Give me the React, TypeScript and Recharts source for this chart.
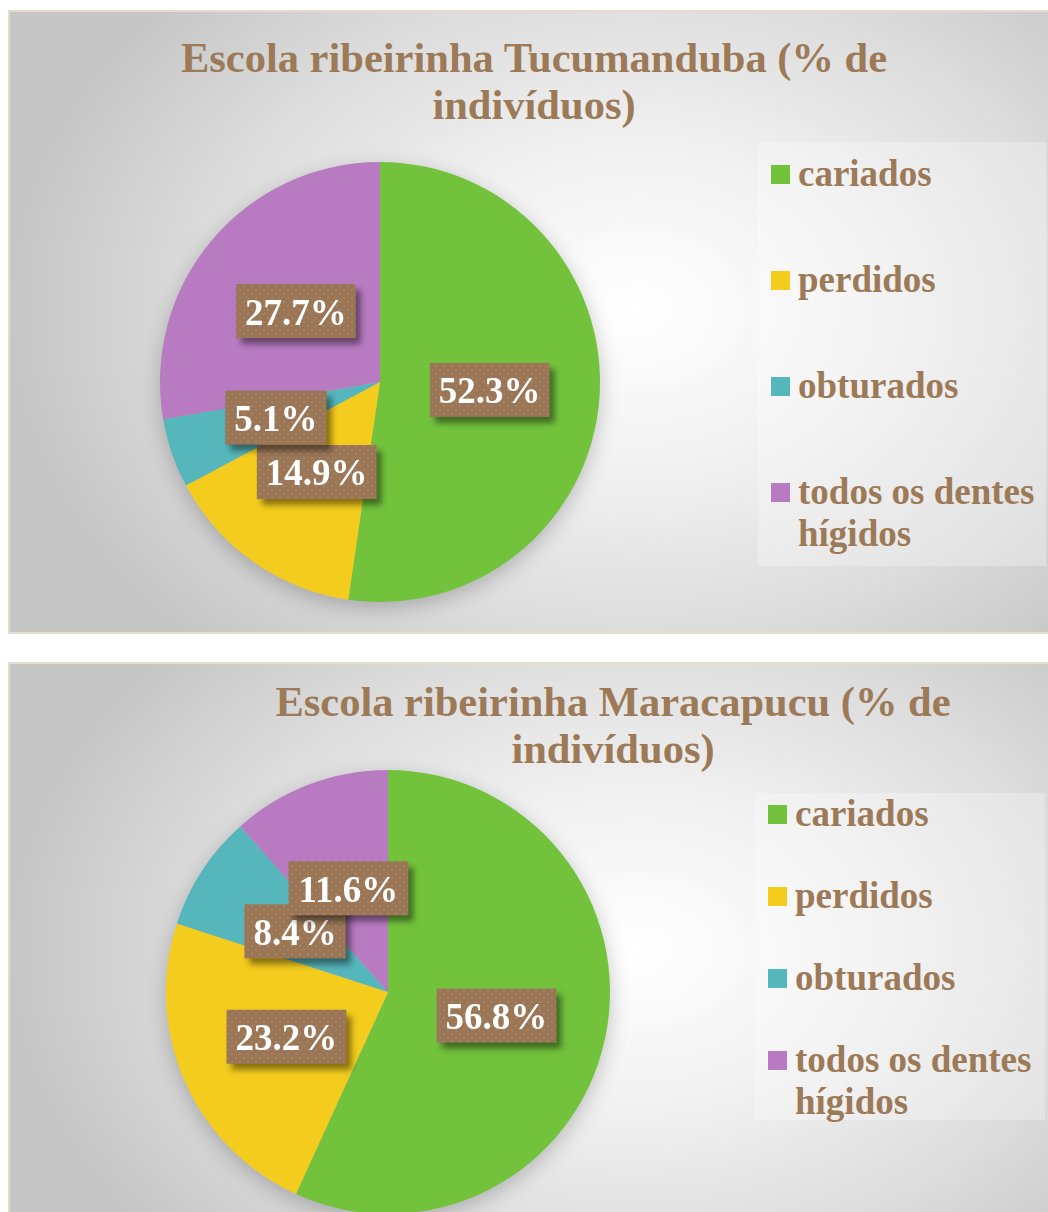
import { PieChart, Pie, Cell } from "recharts"

// categories and values
const categories = ["cariados", "perdidos", "obturados", "todos os dentes hígidos"]
const tucumandubaValues = [52.3, 14.9, 5.1, 27.7]
const maracapucuValues = [56.8, 23.2, 8.4, 11.6]
const sliceColors = ["#72C23C", "#F4CC1E", "#55B6BB", "#B87BC1"]

const titleTucumanduba = ["Escola ribeirinha Tucumanduba (% de", "indivíduos)"]
const titleMaracapucu = ["Escola ribeirinha Maracapucu (% de", "indivíduos)"]

const BROWN = "#9D7A57"
const FONT = "'Liberation Serif', 'Times New Roman', serif"
const RAD = Math.PI / 180
const BORDER = 2

const toRows = (values: number[]) =>
  categories.map((name, i) => ({ name, value: values[i] }))

// rough text width for Times bold digits
const textWidth = (s: string, size: number) =>
  s.split("").reduce((w, ch) => w + (ch === "%" ? 1 : ch === "." ? 0.25 : 0.5), 0) * size

const makeLabel = (prefix: string) => (props: any) => {
  const { cx, cy, midAngle, outerRadius, value, index } = props
  const r = outerRadius * 0.5
  const x = cx + r * Math.cos(-midAngle * RAD)
  const y = cy + r * Math.sin(-midAngle * RAD)
  const text = `${value.toFixed(1)}%`
  const fs = 37
  const w = textWidth(text, fs) + 18
  const h = 54
  const pid = `${prefix}-dots-${index}`
  const fid = `${prefix}-shadow-${index}`
  return (
    <g>
      <defs>
        <pattern id={pid} width="8" height="8" patternUnits="userSpaceOnUse">
          <rect width="8" height="8" fill="#9A7656" />
          <circle cx="2" cy="2" r="1.1" fill="#A98869" />
          <circle cx="6" cy="6" r="1.1" fill="#A48263" />
        </pattern>
        <filter id={fid} x="-20%" y="-20%" width="150%" height="160%">
          <feGaussianBlur stdDeviation="3" />
        </filter>
      </defs>
      <rect x={x - w / 2 + 5} y={y - h / 2 + 6} width={w} height={h} fill="rgba(0,0,0,0.45)" filter={`url(#${fid})`} />
      <rect x={x - w / 2} y={y - h / 2} width={w} height={h} fill={`url(#${pid})`} />
      <text
        x={x}
        y={y + 1}
        textAnchor="middle"
        dominantBaseline="central"
        fill="#FFFFFF"
        fontFamily={FONT}
        fontWeight="bold"
        fontSize={fs}
      >
        {text}
      </text>
    </g>
  )
}

function Legend({ top, left, width, height, padTop, gap }: any) {
  return (
    <div
      style={{
        position: "absolute",
        top,
        left,
        width,
        height,
        background: "rgba(255,255,255,0.28)",
        paddingTop: padTop,
        boxSizing: "border-box",
      }}
    >
      {categories.map((c, i) => (
        <div key={c} style={{ display: "flex", alignItems: "flex-start", marginLeft: 13, marginBottom: gap }}>
          <div style={{ width: 19, height: 19, background: sliceColors[i], marginTop: 12, marginRight: 8, flexShrink: 0 }} />
          <div style={{ fontFamily: FONT, fontWeight: "bold", fontSize: 37, lineHeight: "42px", color: BROWN, width: 245 }}>
            {c}
          </div>
        </div>
      ))}
    </div>
  )
}

function Panel({ top, height, title, titleTop, titleCenter, values, pieCx, pieCy, radius, legendTop, legendLeft, legendW, legendH, padTop, gap, id }: any) {
  const ox = 8 + BORDER
  const oy = top + BORDER
  return (
    <div
      style={{
        position: "absolute",
        left: 8,
        top,
        width: 1050,
        height,
        border: `${BORDER}px solid #E6DBCF`,
        boxSizing: "border-box",
        background: "radial-gradient(ellipse 60% 75% at 60% 48%, #FFFFFF 0%, #F1F1F1 35%, #DCDCDC 70%, #C6C6C6 100%)",
        overflow: "hidden",
      }}
    >
      <div
        style={{
          position: "absolute",
          top: titleTop - oy,
          left: titleCenter - ox - 400,
          width: 800,
          textAlign: "center",
          fontFamily: FONT,
          fontWeight: "bold",
          fontSize: 42.5,
          lineHeight: "47px",
          color: BROWN,
        }}
      >
        {title.map((t: string) => (
          <div key={t}>{t}</div>
        ))}
      </div>
      <div style={{ position: "absolute", left: 0, top: 0, filter: "drop-shadow(0px 6px 10px rgba(0,0,0,0.22))" }}>
        <PieChart width={740} height={height + 40} margin={{ top: 0, right: 0, bottom: 0, left: 0 }}>
          <Pie
            data={toRows(values)}
            dataKey="value"
            nameKey="name"
            cx={pieCx - ox}
            cy={pieCy - oy}
            outerRadius={radius}
            startAngle={90}
            endAngle={-270}
            stroke="none"
            labelLine={false}
            label={makeLabel(id)}
            isAnimationActive={false}
          >
            {values.map((_: number, i: number) => (
              <Cell key={i} fill={sliceColors[i]} />
            ))}
          </Pie>
        </PieChart>
      </div>
      <Legend top={legendTop - oy} left={legendLeft - ox} width={legendW} height={legendH} padTop={padTop} gap={gap} />
    </div>
  )
}

export default function App() {
  return (
    <div style={{ position: "absolute", left: 0, top: 0, width: 1048, height: 1212, overflow: "hidden", background: "#FFFFFF" }}>
      <Panel
        id="tuc"
        top={10}
        height={624}
        title={titleTucumanduba}
        titleTop={34}
        titleCenter={534}
        values={tucumandubaValues}
        pieCx={380}
        pieCy={382}
        radius={220}
        legendTop={142}
        legendLeft={758}
        legendW={288}
        legendH={424}
        padTop={11}
        gap={64}
      />
      <Panel
        id="mar"
        top={662}
        height={600}
        title={titleMaracapucu}
        titleTop={678}
        titleCenter={613}
        values={maracapucuValues}
        pieCx={388}
        pieCy={992}
        radius={222}
        legendTop={793}
        legendLeft={755}
        legendW={290}
        legendH={327}
        padTop={0}
        gap={40}
      />
    </div>
  )
}
